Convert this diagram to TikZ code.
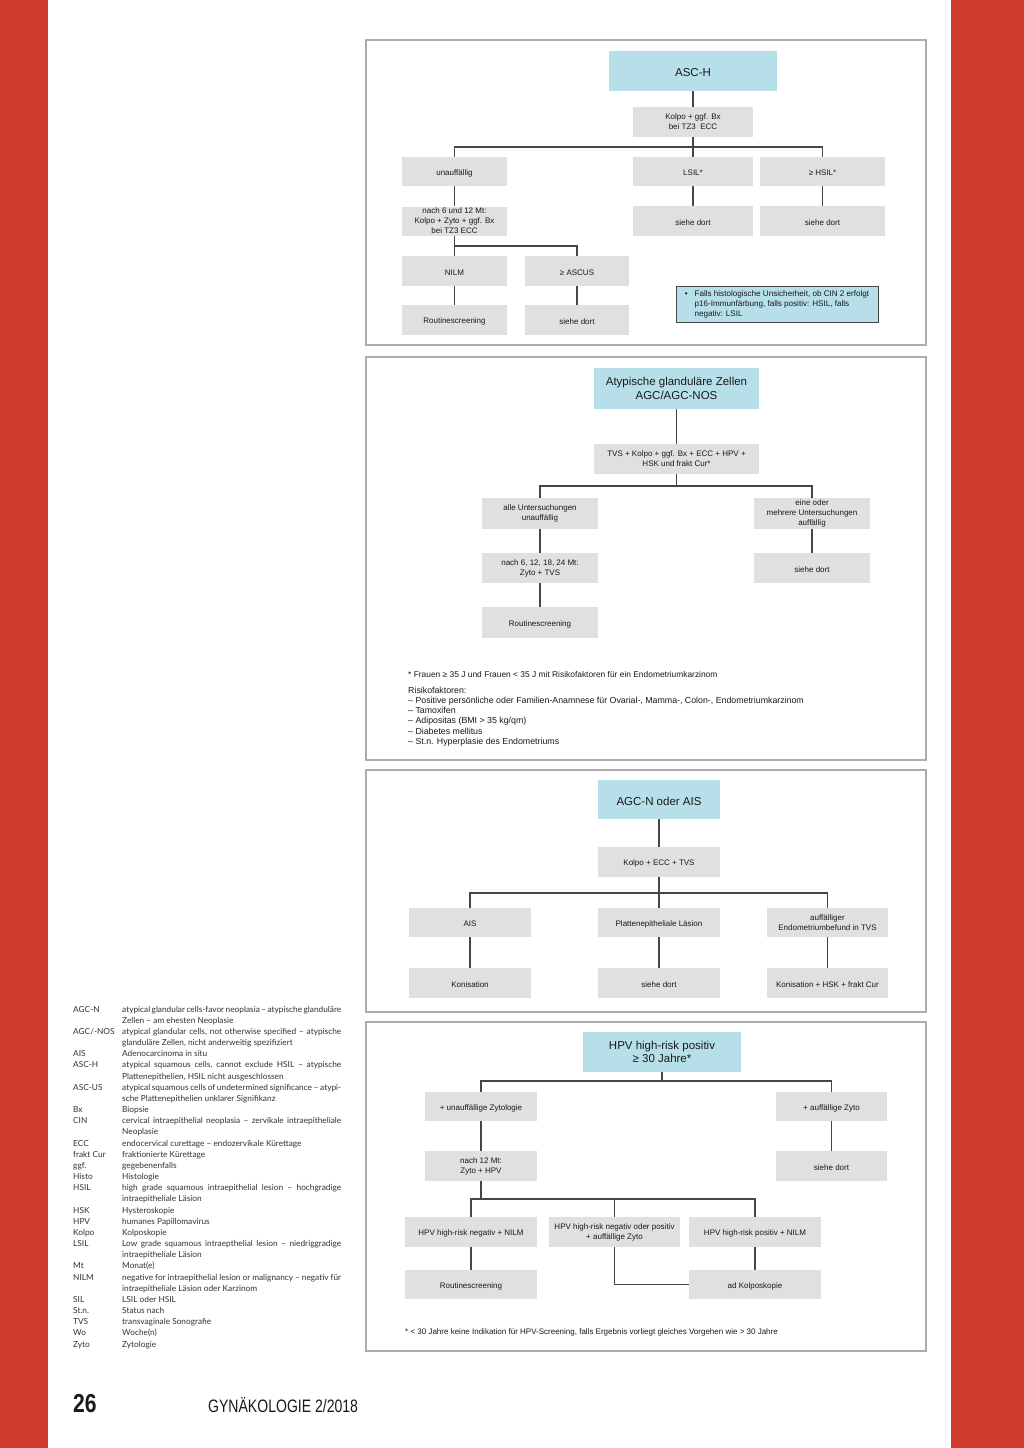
\documentclass[tikz,border=0pt]{standalone}
\usepackage{fontspec}
\setmainfont{Liberation Sans}
\newfontfamily\glossfont{Lato}
\usetikzlibrary{calc}
\definecolor{redc}{RGB}{207,58,45}
\definecolor{boxgray}{RGB}{224,224,224}
\definecolor{bluec}{RGB}{183,223,233}
\definecolor{linec}{RGB}{70,70,70}
\definecolor{panelc}{RGB}{172,172,172}
\definecolor{txt}{RGB}{25,25,25}
\definecolor{glc}{RGB}{50,50,50}
\tikzset{
  gbox/.style={fill=boxgray, inner sep=0pt, align=center, font=\fontsize{8}{10}\selectfont, text=txt,
    execute at begin node={\rule{0pt}{9pt}}},
  tbox/.style={fill=bluec, inner sep=0pt, align=center, font=\fontsize{11.5}{13.3}\selectfont, text=txt,
    execute at begin node={\rule{0pt}{12pt}}},
  conn/.style={draw=linec, line width=1.1pt},
  panel/.style={draw=panelc, line width=1.3pt},
  fn/.style={anchor=base west, inner sep=0pt, text=txt},
  gl/.style={anchor=base west, inner sep=0pt, font=\glossfont\fontsize{8.3}{10}\selectfont, text=glc}
}
\newcommand\bx[7]{\node[#1, minimum width=#5pt, minimum height=#6pt] (#2) at (#3,#4) {#7};}
\newcommand\gab[2]{\node[gl] (ga#1) at (73,{1012+11.17*#1}) {#2};}
\newcommand\gjd[2]{\node[gl] (gd#1) at (122,{1012+11.17*#1}) {\makebox[219pt][s]{#2}};}
\newcommand\gld[2]{\node[gl] (gd#1) at (122,{1012+11.17*#1}) {#2};}
\begin{document}
\begin{tikzpicture}[x=1pt,y=-1pt]
\useasboundingbox (0,0) rectangle (1024,1448);
\fill[white] (0,0) rectangle (1024,1448);
\fill[redc] (0,0) rectangle (48,1448);
\fill[redc] (951,0) rectangle (1024,1448);

% panels
\draw[panel] (366,40) rectangle (926,345);
\draw[panel] (366,357) rectangle (926,760);
\draw[panel] (366,770) rectangle (926,1012);
\draw[panel] (366,1022) rectangle (926,1351);

% ---------- Panel 1: ASC-H ----------
\bx{tbox}{asch}{693}{71}{168}{40}{ASC-H}
\bx{gbox}{kolpo1}{693}{122}{120}{30}{Kolpo + ggf. Bx\\bei TZ3\ \ ECC}
\bx{gbox}{unauf}{454.5}{171.5}{105}{29}{unauffällig}
\bx{gbox}{lsil}{693}{171.5}{120}{29}{LSIL*}
\bx{gbox}{hsil}{822.5}{171.5}{125}{29}{≥ HSIL*}
\bx{gbox}{nach1}{454.5}{221}{105}{29}{nach 6 und 12 Mt:\\Kolpo + Zyto + ggf. Bx\\bei TZ3 ECC}
\bx{gbox}{sd1}{693}{221}{120}{30}{siehe dort}
\bx{gbox}{sd2}{822.5}{221}{125}{30}{siehe dort}
\bx{gbox}{nilm}{454.5}{271}{105}{30}{NILM}
\bx{gbox}{ascus}{577}{271}{104}{30}{≥ ASCUS}
\bx{gbox}{rout1}{454.5}{320}{105}{30}{Routinescreening}
\bx{gbox}{sd3}{577}{320}{104}{30}{siehe dort}
\node[fill=bluec, draw=linec, line width=0.8pt, inner sep=0pt, minimum width=202pt, minimum height=36pt, text=txt] (info) at (777,304)
  {\fontsize{8.1}{10}\selectfont\begin{tabular}{@{}l@{\hspace{7pt}}l@{}}•&Falls histologische Unsicherheit, ob CIN 2 erfolgt\\ &p16-Immunfärbung, falls positiv: HSIL, falls\\ &negativ: LSIL\end{tabular}};

\coordinate (b1) at (693,147);
\draw[conn] (asch.south) -- (kolpo1.north);
\draw[conn] (kolpo1.south) -- (lsil.north);
\draw[conn] (unauf.north) -- (unauf.north |- b1) -- (hsil.north |- b1) -- (hsil.north);
\draw[conn] (unauf.south) -- (nach1.north);
\draw[conn] (lsil.south) -- (sd1.north);
\draw[conn] (hsil.south) -- (sd2.north);
\coordinate (b2) at (454.5,246);
\draw[conn] (nach1.south) -- (nilm.north);
\draw[conn] (b2) -- (ascus.north |- b2) -- (ascus.north);
\draw[conn] (nilm.south) -- (rout1.north);
\draw[conn] (ascus.south) -- (sd3.north);

% ---------- Panel 2: AGC/AGC-NOS ----------
\bx{tbox}{t2}{676.5}{388.5}{165}{41}{Atypische glanduläre Zellen\\AGC/AGC-NOS}
\bx{gbox}{tvs}{676.5}{459}{165}{30}{TVS + Kolpo + ggf. Bx + ECC + HPV +\\HSK und frakt Cur*}
\bx{gbox}{alle}{540}{513.5}{116}{31}{alle Untersuchungen\\unauffällig}
\bx{gbox}{eine}{812}{513.5}{116}{31}{eine oder\\mehrere Untersuchungen\\auffällig}
\bx{gbox}{nach2}{540}{568}{116}{30}{nach 6, 12, 18, 24 Mt:\\Zyto + TVS}
\bx{gbox}{sd4}{812}{568}{116}{30}{siehe dort}
\bx{gbox}{rout2}{540}{622.5}{116}{31}{Routinescreening}
\coordinate (b3) at (676.5,486);
\draw[conn] (t2.south) -- (tvs.north);
\draw[conn] (tvs.south) -- (b3);
\draw[conn] (alle.north) -- (alle.north |- b3) -- (eine.north |- b3) -- (eine.north);
\draw[conn] (alle.south) -- (nach2.north);
\draw[conn] (nach2.south) -- (rout2.north);
\draw[conn] (eine.south) -- (sd4.north);

\node[fn, font=\fontsize{8.4}{9}\selectfont] (fn2a) at (408,677) {* Frauen ≥ 35 J und Frauen < 35 J mit Risikofaktoren für ein Endometriumkarzinom};
\node[fn, font=\fontsize{8.8}{10}\selectfont] (fn2b) at (408,693) {Risikofaktoren:};
\node[fn, font=\fontsize{8.8}{10}\selectfont] (fn2c) at (408,703.3) {– Positive persönliche oder Familien-Anamnese für Ovarial-, Mamma-, Colon-, Endometriumkarzinom};
\node[fn, font=\fontsize{8.8}{10}\selectfont] (fn2d) at (408,713.6) {– Tamoxifen};
\node[fn, font=\fontsize{8.8}{10}\selectfont] (fn2e) at (408,723.9) {– Adipositas (BMI > 35 kg/qm)};
\node[fn, font=\fontsize{8.8}{10}\selectfont] (fn2f) at (408,734.2) {– Diabetes mellitus};
\node[fn, font=\fontsize{8.8}{10}\selectfont] (fn2g) at (408,744.5) {– St.n. Hyperplasie des Endometriums};

% ---------- Panel 3: AGC-N oder AIS ----------
\bx{tbox}{t3}{659}{799.5}{122}{39}{AGC-N oder AIS}
\bx{gbox}{kolpo3}{659}{862}{122}{30}{Kolpo + ECC + TVS}
\bx{gbox}{ais}{470}{922.5}{122}{29}{AIS}
\bx{gbox}{platt}{659}{922.5}{122}{29}{Plattenepitheliale Läsion}
\bx{gbox}{auff}{827.5}{922.5}{121}{29}{auffälliger\\Endometriumbefund in TVS}
\bx{gbox}{kon}{470}{983}{122}{30}{Konisation}
\bx{gbox}{sd5}{659}{983}{122}{30}{siehe dort}
\bx{gbox}{konhsk}{827.5}{983}{121}{30}{Konisation + HSK + frakt Cur}
\coordinate (b4) at (659,893);
\draw[conn] (t3.south) -- (kolpo3.north);
\draw[conn] (kolpo3.south) -- (platt.north);
\draw[conn] (ais.north) -- (ais.north |- b4) -- (auff.north |- b4) -- (auff.north);
\draw[conn] (ais.south) -- (kon.north);
\draw[conn] (platt.south) -- (sd5.north);
\draw[conn] (auff.south) -- (konhsk.north);

% ---------- Panel 4: HPV ----------
\bx{tbox}{t4}{662}{1052}{158}{40}{HPV high-risk positiv\\≥ 30 Jahre*}
\bx{gbox}{unz}{481}{1106.5}{112}{29}{+ unauffällige Zytologie}
\bx{gbox}{az}{831.5}{1106.5}{111}{29}{+ auffällige Zyto}
\bx{gbox}{nach4}{481}{1166}{112}{30}{nach 12 Mt:\\Zyto + HPV}
\bx{gbox}{sd6}{831.5}{1166}{111}{30}{siehe dort}
\bx{gbox}{neg}{471}{1232}{132}{30}{HPV high-risk negativ + NILM}
\bx{gbox}{mid}{614.5}{1232}{131}{30}{HPV high-risk negativ oder positiv\\+ auffällige Zyto}
\bx{gbox}{pos}{755}{1232}{132}{30}{HPV high-risk positiv + NILM}
\bx{gbox}{rout4}{471}{1284.5}{132}{29}{Routinescreening}
\bx{gbox}{adk}{755}{1284.5}{132}{29}{ad Kolposkopie}
\coordinate (b5) at (662,1081);
\coordinate (b6) at (481,1199);
\draw[conn] (t4.south) -- (b5);
\draw[conn] (unz.north) -- (unz.north |- b5) -- (az.north |- b5) -- (az.north);
\draw[conn] (unz.south) -- (nach4.north);
\draw[conn] (az.south) -- (sd6.north);
\draw[conn] (nach4.south) -- (b6);
\draw[conn] (neg.north) -- (neg.north |- b6) -- (pos.north |- b6) -- (pos.north);
\draw[conn] (mid.north) -- (mid.north |- b6);
\draw[conn] (neg.south) -- (rout4.north);
\draw[conn] (pos.south) -- (adk.north);
\draw[conn] (mid.south) |- (adk.west);
\node[fn, font=\fontsize{8}{9}\selectfont] (fn4) at (405,1334) {* < 30 Jahre keine Indikation für HPV-Screening, falls Ergebnis vorliegt gleiches Vorgehen wie > 30 Jahre};

% ---------- Glossary ----------
\gab{0}{AGC-N}\gjd{0}{atypical glandular cells-favor neoplasia – atypische glanduläre}
\gld{1}{Zellen – am ehesten Neoplasie}
\gab{2}{AGC/-NOS}\gjd{2}{atypical glandular cells, not otherwise specified – atypische}
\gld{3}{glanduläre Zellen, nicht anderweitig spezifiziert}
\gab{4}{AIS}\gld{4}{Adenocarcinoma in situ}
\gab{5}{ASC-H}\gjd{5}{atypical squamous cells, cannot exclude HSIL – atypische}
\gld{6}{Plattenepithelien, HSIL nicht ausgeschlossen}
\gab{7}{ASC-US}\gjd{7}{atypical squamous cells of undetermined significance – atypi-}
\gld{8}{sche Plattenepithelien unklarer Signifikanz}
\gab{9}{Bx}\gld{9}{Biopsie}
\gab{10}{CIN}\gjd{10}{cervical intraepithelial neoplasia – zervikale intraepitheliale}
\gld{11}{Neoplasie}
\gab{12}{ECC}\gld{12}{endocervical curettage – endozervikale Kürettage}
\gab{13}{frakt Cur}\gld{13}{fraktionierte Kürettage}
\gab{14}{ggf.}\gld{14}{gegebenenfalls}
\gab{15}{Histo}\gld{15}{Histologie}
\gab{16}{HSIL}\gjd{16}{high grade squamous intraepithelial lesion – hochgradige}
\gld{17}{intraepitheliale Läsion}
\gab{18}{HSK}\gld{18}{Hysteroskopie}
\gab{19}{HPV}\gld{19}{humanes Papillomavirus}
\gab{20}{Kolpo}\gld{20}{Kolposkopie}
\gab{21}{LSIL}\gjd{21}{Low grade squamous intraepthelial lesion – niedriggradige}
\gld{22}{intraepitheliale Läsion}
\gab{23}{Mt}\gld{23}{Monat(e)}
\gab{24}{NILM}\gjd{24}{negative for intraepithelial lesion or malignancy – negativ für}
\gld{25}{intraepitheliale Läsion oder Karzinom}
\gab{26}{SIL}\gld{26}{LSIL oder HSIL}
\gab{27}{St.n.}\gld{27}{Status nach}
\gab{28}{TVS}\gld{28}{transvaginale Sonografie}
\gab{29}{Wo}\gld{29}{Woche(n)}
\gab{30}{Zyto}\gld{30}{Zytologie}

% ---------- Footer ----------
\node[anchor=base west, inner sep=0pt, text=txt, font=\bfseries\fontsize{26}{26}\selectfont] (pnum) at (73,1412) {\scalebox{0.81}[1]{26}};
\node[anchor=base west, inner sep=0pt, text=txt, font=\fontsize{18}{18}\selectfont] (journal) at (208,1412) {\scalebox{0.78}[1]{GYNÄKOLOGIE 2/2018}};
\end{tikzpicture}
\end{document}
